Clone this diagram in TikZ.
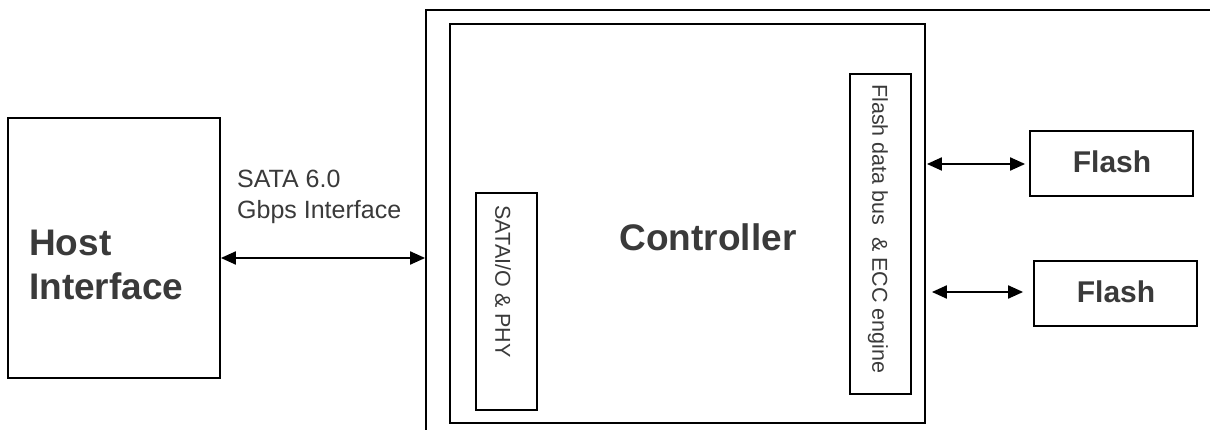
\documentclass[tikz,border=0pt]{standalone}
\usepackage{fontspec}
\setmainfont{Liberation Sans}
\usetikzlibrary{arrows.meta}
\definecolor{txt}{HTML}{3A3A3A}
\begin{document}
\begin{tikzpicture}[x=1pt,y=-1pt,
  box/.style={draw=black,line width=1.8pt,inner sep=0pt,fill=none},
  bi/.style={{Triangle[length=15pt,width=13pt]}-{Triangle[length=15pt,width=13pt]},line width=2pt},
  hostfont/.style={font=\fontsize{37}{44}\selectfont\bfseries,text=txt,inner sep=0pt},
  flashfont/.style={font=\fontsize{30}{36}\selectfont\bfseries,text=txt,inner sep=0pt},
  lblfont/.style={font=\fontsize{25}{31}\selectfont,text=txt,inner sep=0pt},
  vfont/.style={font=\fontsize{21.5}{26}\selectfont,text=txt,inner sep=0pt,rotate=-90}
]
\useasboundingbox (0,0) rectangle (1210,430);
\clip (0,0) rectangle (1210,430);
\fill[white] (0,0) rectangle (1210,430);

% boxes
\node[box,minimum width=212pt,minimum height=260pt] (host) at (114,248) {};
\node[box,minimum width=804pt,minimum height=440pt] (outer) at (828,230) {};
\node[box,minimum width=475pt,minimum height=399pt] (inner) at (687.5,223.5) {};
\node[box,minimum width=61pt,minimum height=217pt] (sata) at (506.5,301.5) {};
\node[box,minimum width=61pt,minimum height=320pt] (bus) at (880.5,234) {};
\node[box,minimum width=163pt,minimum height=65pt] (flash1) at (1111.5,163.5) {};
\node[box,minimum width=163pt,minimum height=65pt] (flash2) at (1115.5,293.5) {};

% texts
\node[hostfont,align=left,anchor=west] (hostlbl) at (29,265) {Host\\Interface};
\node[lblfont,align=left,anchor=north west] (satalbl) at (237,170) {SATA 6.0\\Gbps Interface};
\node[hostfont,anchor=base] (ctrllbl) at (708,251) {Controller};
\node[flashfont,anchor=base] (f1lbl) at (1112,173) {Flash};
\node[flashfont,anchor=base] (f2lbl) at (1116,303) {Flash};
\node[vfont] (satavl) at (503,281.5) {SATAI/O \& PHY};
\node[vfont] (busvl) at (878,229) {Flash data bus~~\& ECC engine};

% connectors
\coordinate (yh) at (0,258);
\coordinate (y1) at (0,164);
\coordinate (y2) at (0,292);
\draw[bi] (host.east |- yh) -- (outer.west |- yh);
\draw[bi,shorten <=1pt,shorten >=4pt] (inner.east |- y1) -- (flash1.west |- y1);
\draw[bi,shorten <=6pt,shorten >=10pt] (inner.east |- y2) -- (flash2.west |- y2);
\end{tikzpicture}
\end{document}
